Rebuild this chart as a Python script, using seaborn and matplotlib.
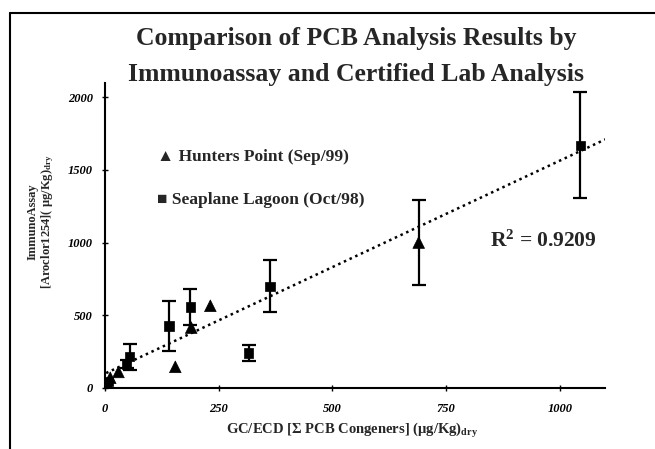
import numpy as np
import pandas as pd
import matplotlib
matplotlib.use("Agg")
import matplotlib.pyplot as plt
import seaborn as sns
from matplotlib.lines import Line2D

# ---- data ----
hp_x = [5, 12, 30, 155, 190, 232, 690]
hp_y = [30, 70, 110, 145, 415, 565, 1000]
hp_err = [np.nan, np.nan, np.nan, np.nan, np.nan, np.nan, 290]

sl_x = [3, 8, 48, 55, 141, 188, 316, 363, 1045]
sl_y = [20, 45, 165, 215, 425, 557, 240, 700, 1668]
sl_err = [np.nan, np.nan, 30, 90, 170, 125, 55, 180, 365]

trend_slope = 1.465
trend_intercept = 98.0
trend_range = [3, 1100]
r_squared = "0.9209"

x_ticks = [0, 250, 500, 750, 1000]
y_ticks = [0, 500, 1000, 1500, 2000]

series_labels = ["Hunters Point (Sep/99)", "Seaplane Lagoon (Oct/98)"]
title_lines = ["Comparison of PCB Analysis Results by",
               "Immunoassay and Certified Lab Analysis"]

# ---- style ----
sns.set_theme(style="white")
plt.rcParams['font.family'] = ['Liberation Serif', 'DejaVu Serif']
plt.rcParams['mathtext.fontset'] = 'custom'
plt.rcParams['mathtext.rm'] = 'Liberation Serif:bold'
plt.rcParams['mathtext.it'] = 'Liberation Serif:bold'
plt.rcParams['mathtext.bf'] = 'Liberation Serif:bold'

df = pd.concat([
    pd.DataFrame({"x": hp_x, "y": hp_y, "err": hp_err, "site": series_labels[0]}),
    pd.DataFrame({"x": sl_x, "y": sl_y, "err": sl_err, "site": series_labels[1]}),
], ignore_index=True)

fig = plt.figure(figsize=(6.55, 4.49), dpi=100)
ax = fig.add_axes([0.160, 0.136, 0.764, 0.680])

# trendline
tx = np.array(trend_range, dtype=float)
ax.plot(tx, trend_intercept + trend_slope * tx, linestyle=(0, (1.0, 1.5)),
        color="black", linewidth=1.8, zorder=1)

# error bars
for site in series_labels:
    sub = df[(df.site == site) & df.err.notna()]
    ax.errorbar(sub.x, sub.y, yerr=sub.err, fmt="none", ecolor="black",
                elinewidth=1.6, capsize=5, capthick=1.6, zorder=2)

sns.scatterplot(data=df, x="x", y="y", style="site", hue="site",
                markers={series_labels[0]: "^", series_labels[1]: "s"},
                palette={series_labels[0]: "black", series_labels[1]: "black"},
                size="site", sizes={series_labels[0]: 70, series_labels[1]: 45},
                edgecolor="black", linewidth=0.5, legend=False, ax=ax, zorder=3)

ax.set_xlim(0, 1100)
ax.set_ylim(0, 2100)
ax.set_xticks(x_ticks)
ax.set_yticks(y_ticks)
ax.set_xticklabels([str(v) for v in x_ticks], fontstyle="italic", fontweight="bold", fontsize=9)
ax.set_yticklabels([str(v) for v in y_ticks], fontstyle="italic", fontweight="bold", fontsize=9)
ax.tick_params(axis="both", direction="inout", length=5, width=1.0, colors="black",
               bottom=True, left=True, pad=6)
ax.tick_params(axis="x", pad=8)
for s in ["top", "right"]:
    ax.spines[s].set_visible(False)
for s in ["left", "bottom"]:
    ax.spines[s].set_color("black")
    ax.spines[s].set_linewidth(1.5)
ax.set_xlabel("")
ax.set_ylabel("")

# axis labels
fig.text(0.537, 0.042, "GC/ECD [Σ PCB Congeners] (μg/Kg)$_{\\mathrm{dry}}$",
         ha="center", va="center", fontsize=10.5, fontweight="bold")
fig.text(0.050, 0.506, "ImmunoAssay", rotation=90, ha="center", va="center",
         fontsize=9, fontweight="bold")
fig.text(0.072, 0.506, "[Aroclor1254]( μg/Kg)$_{\\mathrm{dry}}$", rotation=90,
         ha="center", va="center", fontsize=9, fontweight="bold")

# title
fig.text(0.544, 0.915, title_lines[0], ha="center", va="center",
         fontsize=18.5, fontweight="bold")
fig.text(0.544, 0.833, title_lines[1], ha="center", va="center",
         fontsize=18.5, fontweight="bold")

# legend (as text)
ax.text(0.105, 0.755, "▲ " + series_labels[0], transform=ax.transAxes,
        ha="left", va="center", fontsize=12.5, fontweight="bold",
        family=['Liberation Serif', 'DejaVu Sans'])
ax.text(0.105, 0.615, "■ " + series_labels[1], transform=ax.transAxes,
        ha="left", va="center", fontsize=12.5, fontweight="bold",
        family=['Liberation Serif', 'DejaVu Sans'])

# R^2
ax.text(0.77, 0.48, "R$^{2}$ = " + r_squared, transform=ax.transAxes,
        ha="left", va="center", fontsize=15.5, fontweight="bold")

# figure border (left and top)
fig.add_artist(Line2D([0.0153, 0.0153], [0.0, 0.971], transform=fig.transFigure,
                      color="black", linewidth=1.5))
fig.add_artist(Line2D([0.0153, 1.0], [0.971, 0.971], transform=fig.transFigure,
                      color="black", linewidth=1.5))

fig.savefig("out.png", dpi=100, facecolor="white")
